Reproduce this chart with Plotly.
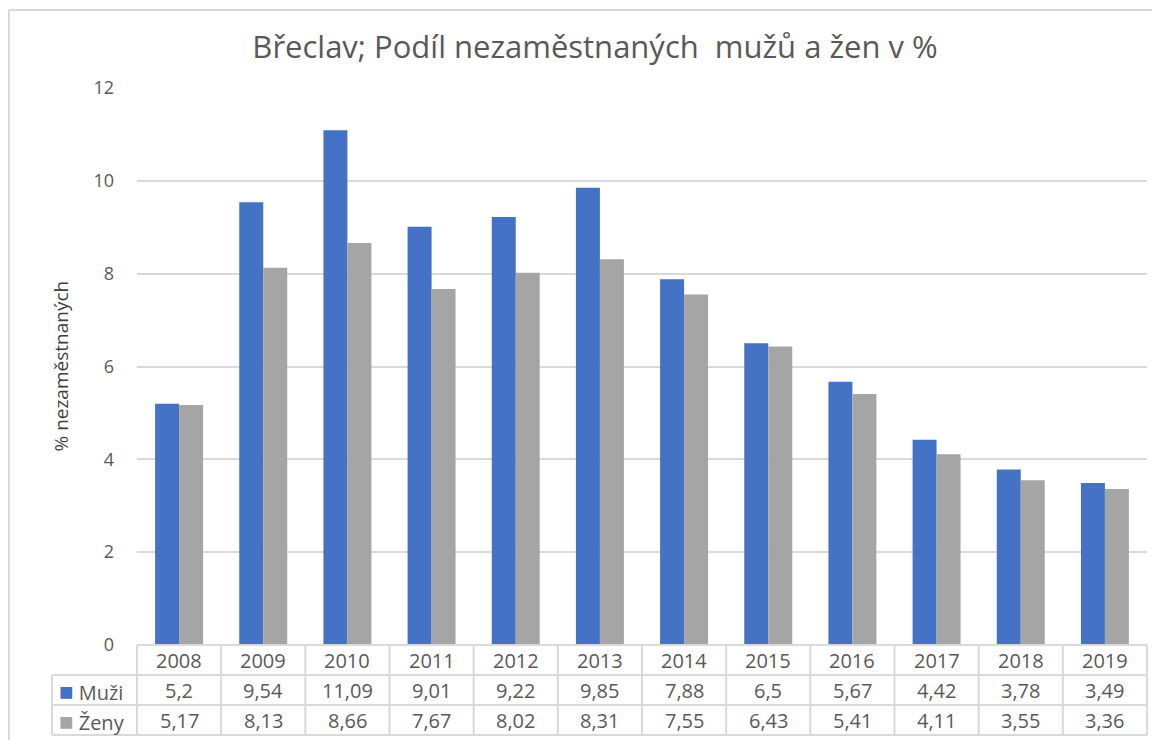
import plotly.graph_objects as go

years = ["2008", "2009", "2010", "2011", "2012", "2013", "2014", "2015", "2016", "2017", "2018", "2019"]
muzi = [5.2, 9.54, 11.09, 9.01, 9.22, 9.85, 7.88, 6.5, 5.67, 4.42, 3.78, 3.49]
zeny = [5.17, 8.13, 8.66, 7.67, 8.02, 8.31, 7.55, 6.43, 5.41, 4.11, 3.55, 3.36]
muzi_lbl = ["5,2", "9,54", "11,09", "9,01", "9,22", "9,85", "7,88", "6,5", "5,67", "4,42", "3,78", "3,49"]
zeny_lbl = ["5,17", "8,13", "8,66", "7,67", "8,02", "8,31", "7,55", "6,43", "5,41", "4,11", "3,55", "3,36"]
series_names = ["Muži", "Ženy"]
colors = ["#4472C4", "#A5A5A5"]

OFF = 8  # page body margin
W, H = 1152, 732
ML, MR, MT, MB = 129, 13, 80, 95
pw = W - ML - MR
ph = H - MT - MB
row = 30 / ph  # table row height in paper units
FONT = "Open Sans"
TXT = "#595959"
GRID = "#D9D9D9"

fig = go.Figure()
for name, vals, col in zip(series_names, [muzi, zeny], colors):
    fig.add_trace(go.Bar(x=years, y=vals, name=name, marker_color=col,
                         marker_line_width=0, showlegend=False))

def px_x(p):
    return (p - OFF - ML) / pw

def px_y(p):
    return 1 - (p - OFF - MT) / ph

shapes = []
ann = []
n = len(years)
LW = 2
# table horizontal lines
shapes.append(dict(type="line", xref="paper", yref="paper", x0=0, x1=1, y0=0, y1=0,
                   line=dict(color=GRID, width=LW)))
left_paper = px_x(52)
for k in (1, 2, 3):
    shapes.append(dict(type="line", xref="paper", yref="paper", x0=left_paper, x1=1, y0=-k * row, y1=-k * row,
                       line=dict(color=GRID, width=LW)))
# vertical lines at category boundaries
for i in range(n + 1):
    xb = i / n
    shapes.append(dict(type="line", xref="paper", yref="paper", x0=xb, x1=xb, y0=0, y1=-3 * row,
                       line=dict(color=GRID, width=LW)))
shapes.append(dict(type="line", xref="paper", yref="paper", x0=left_paper, x1=left_paper, y0=-row, y1=-3 * row,
                   line=dict(color=GRID, width=LW)))
# chart border (left and top)
bx = px_x(9)
by = px_y(10)
shapes.append(dict(type="line", xref="paper", yref="paper", x0=bx, x1=bx, y0=by, y1=px_y(760),
                   line=dict(color=GRID, width=2)))
shapes.append(dict(type="line", xref="paper", yref="paper", x0=bx, x1=px_x(1180), y0=by, y1=by,
                   line=dict(color=GRID, width=2)))

# table text
tf = dict(size=20, color=TXT, family=FONT)
for i, y in enumerate(years):
    ann.append(dict(x=i, y=-0.5 * row, xref="x", yref="paper", yanchor="middle", xanchor="center",
                    text=y, showarrow=False, font=tf))
    ann.append(dict(x=i, y=-1.5 * row, xref="x", yref="paper", yanchor="middle", xanchor="center",
                    text=muzi_lbl[i], showarrow=False, font=tf))
    ann.append(dict(x=i, y=-2.5 * row, xref="x", yref="paper", yanchor="middle", xanchor="center",
                    text=zeny_lbl[i], showarrow=False, font=tf))
for k, (name, col) in enumerate(zip(series_names, colors)):
    ann.append(dict(x=px_x(57), y=-(1.5 + k) * row, xref="paper", yref="paper", xanchor="left", yanchor="middle",
                    text=f"<span style='color:{col};font-size:24px'>■</span> {name}", showarrow=False, font=tf))
# y axis title
ann.append(dict(x=px_x(60), y=0.5, xref="paper", yref="paper", xanchor="center", yanchor="middle",
                text="% nezaměstnaných", textangle=-90,
                showarrow=False, font=dict(size=19, color="#404040", family=FONT)))

fig.update_layout(
    width=W, height=H,
    margin=dict(l=ML, r=MR, t=MT, b=MB),
    paper_bgcolor="white", plot_bgcolor="white",
    barmode="group", bargap=0.43, bargroupgap=0,
    title=dict(text="Břeclav; Podíl nezaměstnaných&nbsp; mužů a žen v %", x=(595 - OFF) / W, xanchor="center",
               y=1 - (47 - OFF) / H, yanchor="middle", font=dict(size=31, color=TXT, family=FONT)),
    xaxis=dict(type="category", range=[-0.5, n - 0.5], showticklabels=False, showline=False, ticks="",
               showgrid=False, zeroline=False),
    yaxis=dict(range=[0, 12], dtick=2, gridcolor=GRID, gridwidth=1.5, zeroline=False, showline=False,
               ticks="", ticklabelstandoff=22,
               tickfont=dict(size=18, color=TXT, family=FONT)),
    shapes=shapes, annotations=ann,
)

fig.write_html("out.html")
